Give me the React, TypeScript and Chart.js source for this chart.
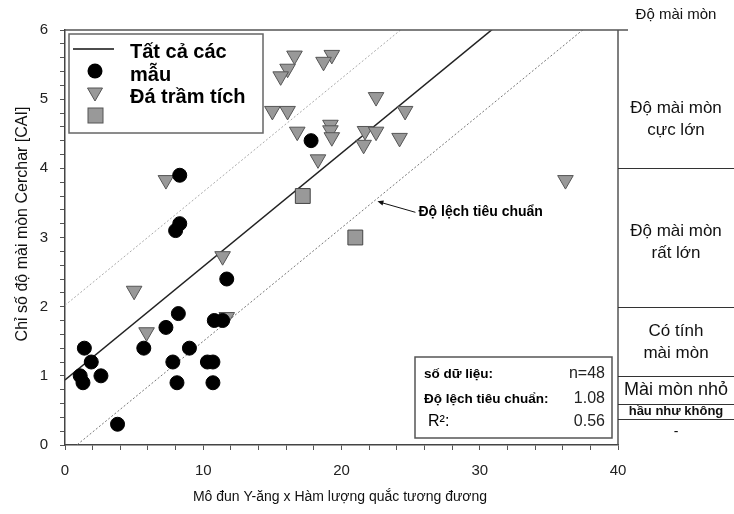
import React, { useEffect, useRef } from 'react';
import { Chart, registerables } from 'chart.js';
Chart.register(...registerables);

// ---- data ----
const sampleX = [1.4, 1.9, 1.1, 1.3, 2.6, 3.8, 5.7, 7.3, 8.2, 7.8, 8.1, 9.0, 10.3, 10.7, 10.7, 10.8, 11.4, 11.7, 8.0, 8.3, 8.3, 17.8];
const sampleY = [1.4, 1.2, 1.0, 0.9, 1.0, 0.3, 1.4, 1.7, 1.9, 1.2, 0.9, 1.4, 1.2, 1.2, 0.9, 1.8, 1.8, 2.4, 3.1, 3.2, 3.9, 4.4];
const sedX = [16.6, 16.1, 15.6, 19.3, 18.7, 22.5, 15.0, 16.1, 24.6, 16.8, 19.2, 19.2, 19.3, 21.7, 22.5, 21.6, 24.2, 18.3, 7.3, 5.0, 5.9, 11.4, 11.7, 36.2];
const sedY = [5.63, 5.44, 5.33, 5.64, 5.54, 5.03, 4.83, 4.83, 4.83, 4.53, 4.63, 4.55, 4.45, 4.54, 4.53, 4.34, 4.44, 4.13, 3.83, 2.23, 1.63, 2.73, 1.85, 3.83];
const otherX = [17.2, 21.0];
const otherY = [3.6, 3.0];

const fitIntercept = 0.94;
const fitSlope = 0.164;
const stdDev = 1.08;
const xMin = 0, xMax = 40, yMin = 0, yMax = 6;
const xTickLabels = [0, 10, 20, 30, 40];
const yTickLabels = [0, 1, 2, 3, 4, 5, 6];

const classBounds = [6, 4, 2, 1, 0.6, 0.38, 0];
const classLabels = [["Độ mài mòn", "cực lớn"], ["Độ mài mòn", "rất lớn"], ["Có tính", "mài mòn"], ["Mài mòn nhỏ"], ["hầu như không"], ["-"]];
const classHeader = "Độ mài mòn";
const statsLabels = ["số dữ liệu:", "Độ lệch tiêu chuẩn:", "R²:"];
const statsValues = ["n=48", "1.08", "0.56"];
const legendLabels = ["Tất cả các", "mẫu", "Đá trầm tích"];
const annotationText = "Độ lệch tiêu chuẩn";
const xTitle = "Mô đun Y-ăng x Hàm lượng quắc tương đương";
const yTitle = "Chỉ số độ mài mòn Cerchar [CAI]";

const FAM = '"Liberation Sans", Arial, sans-serif';
const W = 734, H = 514;

function pts(xs: number[], ys: number[]) {
  return xs.map((x, i) => ({ x, y: ys[i] }));
}
function fitLine(offset: number) {
  return [xMin, xMax].map((x) => ({ x, y: fitIntercept + offset + fitSlope * x }));
}

const overlay = {
  id: 'overlay',
  afterDraw(chart: any) {
    const ctx = chart.ctx as CanvasRenderingContext2D;
    const { left, right, top, bottom } = chart.chartArea;
    const xs = chart.scales.x, ys = chart.scales.y;
    ctx.save();
    // top border
    ctx.strokeStyle = '#555';
    ctx.lineWidth = 1.5;
    ctx.beginPath();
    ctx.moveTo(left, top); ctx.lineTo(right + 10, top);
    ctx.stroke();
    // right panel
    ctx.beginPath();
    ctx.moveTo(right, top); ctx.lineTo(right, bottom);
    ctx.stroke();
    ctx.lineWidth = 1;
    ctx.strokeStyle = '#333';
    for (let i = 1; i < classBounds.length - 1; i++) {
      const py = Math.round(ys.getPixelForValue(classBounds[i])) + 0.5;
      ctx.beginPath(); ctx.moveTo(right, py); ctx.lineTo(W, py); ctx.stroke();
    }
    const cx = (right + W) / 2;
    ctx.fillStyle = '#111';
    ctx.textAlign = 'center';
    ctx.textBaseline = 'middle';
    ctx.font = `15px ${FAM}`;
    ctx.fillText(classHeader, cx, 15);
    const extraOff = [20, 5, 1, 0, 0, 0];
    const fonts = [`17px ${FAM}`, `17px ${FAM}`, `17px ${FAM}`, `18px ${FAM}`, `bold 13px ${FAM}`, `14px ${FAM}`];
    classLabels.forEach((lines, i) => {
      const y0 = ys.getPixelForValue(classBounds[i]);
      const y1 = ys.getPixelForValue(classBounds[i + 1]);
      const mid = (y0 + y1) / 2 + extraOff[i];
      const lh = 22;
      ctx.font = fonts[i];
      lines.forEach((t, j) => {
        ctx.fillText(t, cx, mid + (j - (lines.length - 1) / 2) * lh);
      });
    });

    // legend box
    ctx.fillStyle = '#fff';
    ctx.fillRect(69, 34, 194, 99);
    ctx.strokeStyle = '#666';
    ctx.lineWidth = 1.5;
    ctx.strokeRect(69, 34, 194, 99);
    ctx.strokeStyle = '#111';
    ctx.lineWidth = 1.5;
    ctx.beginPath(); ctx.moveTo(73, 49); ctx.lineTo(114, 49); ctx.stroke();
    ctx.fillStyle = '#000';
    ctx.beginPath(); ctx.arc(95, 71, 7.5, 0, Math.PI * 2); ctx.fill();
    ctx.fillStyle = '#999'; ctx.strokeStyle = '#555'; ctx.lineWidth = 1;
    ctx.beginPath();
    ctx.moveTo(95 - 7.5, 88); ctx.lineTo(95 + 7.5, 88); ctx.lineTo(95, 101); ctx.closePath();
    ctx.fill(); ctx.stroke();
    ctx.fillRect(88, 108, 15, 15); ctx.strokeRect(88, 108, 15, 15);
    ctx.fillStyle = '#000';
    ctx.textAlign = 'left';
    ctx.font = `bold 20px ${FAM}`;
    ctx.fillText(legendLabels[0], 130, 52);
    ctx.fillText(legendLabels[1], 130, 75);
    ctx.fillText(legendLabels[2], 130, 97);

    // stats box
    ctx.fillStyle = '#fff';
    ctx.fillRect(415, 357, 197, 81);
    ctx.strokeStyle = '#555';
    ctx.lineWidth = 1.5;
    ctx.strokeRect(415, 357, 197, 81);
    const rowY = [374, 399, 422];
    statsLabels.forEach((t, i) => {
      ctx.textAlign = 'left';
      ctx.fillStyle = '#000';
      ctx.font = i === 2 ? `16px ${FAM}` : `bold 13.5px ${FAM}`;
      ctx.fillText(t, i === 2 ? 428 : 424, rowY[i]);
      ctx.textAlign = 'right';
      ctx.fillStyle = '#222';
      ctx.font = `16px ${FAM}`;
      ctx.fillText(statsValues[i], 605, rowY[i]);
    });

    // annotation arrow
    const ax = 22.6;
    const tipX = xs.getPixelForValue(ax);
    const tipY = ys.getPixelForValue(fitIntercept - stdDev + fitSlope * ax) + 3;
    const endX = tipX + 38, endY = tipY + 11;
    ctx.strokeStyle = '#111'; ctx.lineWidth = 1;
    ctx.beginPath(); ctx.moveTo(endX, endY); ctx.lineTo(tipX + 3, tipY + 1); ctx.stroke();
    const ang = Math.atan2(tipY - endY, tipX - endX);
    ctx.fillStyle = '#111';
    ctx.beginPath();
    ctx.moveTo(tipX, tipY);
    ctx.lineTo(tipX - 6 * Math.cos(ang) + 2.5 * Math.sin(ang), tipY - 6 * Math.sin(ang) - 2.5 * Math.cos(ang));
    ctx.lineTo(tipX - 6 * Math.cos(ang) - 2.5 * Math.sin(ang), tipY - 6 * Math.sin(ang) + 2.5 * Math.cos(ang));
    ctx.closePath(); ctx.fill();
    ctx.textAlign = 'left';
    ctx.fillStyle = '#000';
    ctx.font = `bold 14px ${FAM}`;
    ctx.fillText(annotationText, endX + 3, endY);

    // axis titles
    ctx.fillStyle = '#111';
    ctx.font = `14px ${FAM}`;
    ctx.textAlign = 'center';
    ctx.fillText(xTitle, 340, 497);
    ctx.save();
    ctx.translate(23, 224);
    ctx.rotate(-Math.PI / 2);
    ctx.font = `16px ${FAM}`;
    ctx.fillText(yTitle, 0, 0);
    ctx.restore();
    ctx.restore();
  },
};

export default function App() {
  const ref = useRef<HTMLCanvasElement>(null);
  useEffect(() => {
    if (!ref.current) return;
    const chart = new Chart(ref.current, {
      type: 'scatter',
      data: {
        datasets: [
          {
            label: 'samples', data: pts(sampleX, sampleY), pointStyle: 'circle', pointRadius: 7,
            backgroundColor: '#000', borderColor: '#000', borderWidth: 1, order: 1,
          },
          {
            label: 'sed', data: pts(sedX, sedY), pointStyle: 'triangle', pointRotation: 180, pointRadius: 9,
            backgroundColor: '#999', borderColor: '#555', borderWidth: 1, order: 2,
          },
          {
            label: 'other', data: pts(otherX, otherY), pointStyle: 'rect', pointRadius: 10.5,
            backgroundColor: '#999', borderColor: '#444', borderWidth: 1, order: 3,
          },
          {
            type: 'line', label: 'fit', data: fitLine(0), showLine: true, pointRadius: 0,
            borderColor: '#222', borderWidth: 1.5, order: 4,
          } as any,
          {
            type: 'line', label: 'upper', data: fitLine(stdDev), showLine: true, pointRadius: 0,
            borderColor: '#aaa', borderWidth: 1, borderDash: [2, 2], order: 5,
          } as any,
          {
            type: 'line', label: 'lower', data: fitLine(-stdDev), showLine: true, pointRadius: 0,
            borderColor: '#777', borderWidth: 1, borderDash: [2, 2], order: 5,
          } as any,
        ],
      },
      options: {
        animation: false,
        responsive: false,
        events: [],
        layout: { padding: { top: 30, right: 116, left: 0, bottom: 0 } },
        plugins: { legend: { display: false }, tooltip: { enabled: false } },
        scales: {
          x: {
            type: 'linear', min: xMin, max: xMax,
            afterFit: (s: any) => { s.height = 69; },
            border: { display: true, color: '#444', width: 1.5 },
            grid: { display: true, drawOnChartArea: false, drawTicks: true, tickLength: 5, color: '#555' },
            ticks: {
              stepSize: 2, autoSkip: false, maxRotation: 0, padding: 12,
              color: '#222', font: { family: FAM, size: 15 },
              callback: (v: any) => (xTickLabels.includes(Math.round(v)) && Math.abs(v - Math.round(v)) < 1e-6 ? String(Math.round(v)) : ''),
            },
          },
          y: {
            type: 'linear', min: yMin, max: yMax,
            afterFit: (s: any) => { s.width = 65; },
            border: { display: true, color: '#444', width: 1.5 },
            grid: { display: true, drawOnChartArea: false, drawTicks: true, tickLength: 5, color: '#555' },
            ticks: {
              stepSize: 0.2, autoSkip: false, padding: 12,
              color: '#222', font: { family: FAM, size: 15 },
              callback: (v: any) => (Math.abs(v - Math.round(v)) < 1e-6 && yTickLabels.includes(Math.round(v)) ? String(Math.round(v)) : ''),
            },
          },
        },
      },
      plugins: [overlay],
    } as any);
    return () => chart.destroy();
  }, []);
  return (
    <div style={{ position: 'absolute', left: 0, top: 0, width: W, height: H, background: '#fff' }}>
      <canvas ref={ref} width={W} height={H} style={{ display: 'block' }} />
    </div>
  );
}
